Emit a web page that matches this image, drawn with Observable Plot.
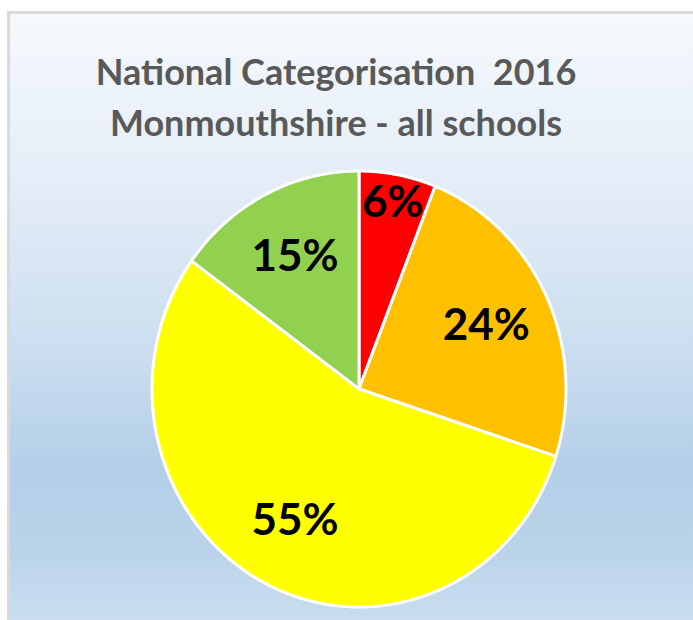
<!DOCTYPE html>
<html>
<head>
<meta charset="utf-8">
<script src="https://cdn.jsdelivr.net/npm/d3@7"></script>
<script src="https://cdn.jsdelivr.net/npm/@observablehq/plot@0.6"></script>
<style>
  html, body { margin: 0; padding: 0; background: #ffffff; }
  #page { position: relative; width: 693px; height: 620px; overflow: hidden; }
  #panel {
    position: absolute; left: 7px; top: 11px; right: 0; bottom: 0;
    border-left: 3px solid #d9d9d9; border-top: 3px solid #d9d9d9;
    background: linear-gradient(to bottom, #f6f9fd 0%, #e2ecf7 30%, #c9dcef 58%, #b3cfe8 75%, #bad3ea 88%, #c9ddef 100%);
  }
  #title {
    position: absolute; left: 10px; width: 652px; top: 46px;
    text-align: center; font-family: Lato, "Open Sans", sans-serif; font-weight: bold;
    font-size: 36px; line-height: 51px; color: #595959; white-space: pre;
  }
  #chart { position: absolute; left: 0; top: 0; }
</style>
</head>
<body>
<div id="page">
  <div id="panel"></div>
  <div id="title">National Categorisation  2016
Monmouthshire - all schools</div>
  <div id="chart"></div>
</div>
<script>
const categories = ["Red", "Amber", "Yellow", "Green"];
const values = [6, 24, 55, 15];
const colors = ["#ff0000", "#ffc000", "#ffff00", "#92d050"];

const total = d3.sum(values);
const pie = d3.pie().sort(null).value(d => d.value)(
  categories.map((c, i) => ({category: c, value: values[i]}))
);

// slice outlines in unit-circle coordinates (angle measured clockwise from 12 o'clock)
const outline = [];
for (const s of pie) {
  const steps = Math.max(2, Math.ceil((s.endAngle - s.startAngle) / (Math.PI / 180)));
  outline.push({category: s.data.category, x: 0, y: 0});
  for (let k = 0; k <= steps; k++) {
    const a = s.startAngle + (s.endAngle - s.startAngle) * k / steps;
    outline.push({category: s.data.category, x: Math.sin(a), y: Math.cos(a)});
  }
  outline.push({category: s.data.category, x: 0, y: 0});
}

const labels = pie.map(s => {
  const a = (s.startAngle + s.endAngle) / 2;
  const r = s.data.value < 10 ? 0.87 : 0.68;
  return {text: Math.round(s.data.value / total * 100) + "%", x: r * Math.sin(a), y: r * Math.cos(a)};
});

const chart = Plot.plot({
  width: 693,
  height: 620,
  marginLeft: 151.5,
  marginRight: 127.5,
  marginTop: 170.5,
  marginBottom: 13.5,
  style: {background: "transparent", overflow: "visible"},
  x: {domain: [-1, 1], axis: null},
  y: {domain: [-1, 1], axis: null},
  color: {type: "ordinal", domain: categories, range: colors},
  marks: [
    Plot.line(outline, {x: "x", y: "y", z: "category", fill: "category", stroke: "white", strokeWidth: 3, strokeLinejoin: "miter", curve: "linear"}),
    Plot.text(labels, {x: "x", y: "y", text: "text", fill: "black", fontSize: 44, fontWeight: "bold", fontFamily: "Lato, 'Open Sans', sans-serif"})
  ]
});
document.getElementById("chart").appendChild(chart);
</script>
</body>
</html>
